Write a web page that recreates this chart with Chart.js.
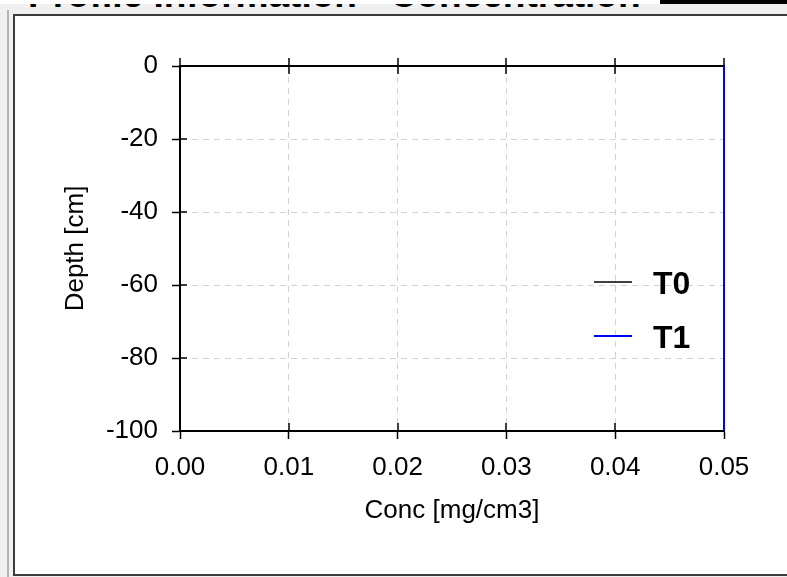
<!DOCTYPE html>
<html><head><meta charset="utf-8">
<script src="https://cdn.jsdelivr.net/npm/chart.js@4.4.1/dist/chart.umd.min.js"></script>
<style>
html,body{margin:0;padding:0;}
body{width:787px;height:577px;overflow:hidden;background:#f0f0f0;position:relative;font-family:"Liberation Sans",Arial,sans-serif;}
#strip{position:absolute;left:0;top:0;width:660px;height:4px;background:#ffffff;}
#topbar{position:absolute;left:660px;top:0;width:127px;height:4px;background:#000;}
#title{position:absolute;left:0;top:4px;width:787px;height:4px;overflow:hidden;}
#title span{position:absolute;left:28px;top:-28px;font:bold 37px/37px "Liberation Sans",Arial,sans-serif;color:#000;white-space:nowrap;}
#sidebar{position:absolute;left:7px;top:10px;width:2px;height:567px;background:#b4b4b4;}
#frame{position:absolute;left:13px;top:14px;width:800px;height:558px;border:2px solid #3c3c3c;border-right:none;background:#fff;}
#wrap{position:absolute;left:0;top:0;width:787px;height:577px;}
</style></head>
<body>
<div id="strip"></div>
<div id="topbar"></div>
<div id="title"><span>Profile Information - Concentration</span></div>
<div id="sidebar"></div>
<div id="frame"></div>
<div id="wrap"><canvas id="c" width="787" height="577"></canvas></div>
<script>
const depths = [0, -20, -40, -60, -80, -100];
const concT0 = [0.05, 0.05, 0.05, 0.05, 0.05, 0.05];
const concT1 = [0.05, 0.05, 0.05, 0.05, 0.05, 0.05];
const seriesNames = ['T0', 'T1'];
const seriesColors = ['#000000', '#0000ff'];
const xTicks = [0, 0.01, 0.02, 0.03, 0.04, 0.05];
const yTicks = [0, -20, -40, -60, -80, -100];
const xTitle = 'Conc [mg/cm3]';
const yTitle = 'Depth [cm]';

const FONT = '"Liberation Sans", Arial, sans-serif';

const toPts = (xs) => xs.map((v, i) => ({x: v, y: depths[i]}));

const framePlugin = {
  id: 'frameLines',
  beforeDatasetsDraw(chart) {
    const {ctx, chartArea: a, scales: {x, y}} = chart;
    ctx.save();
    ctx.strokeStyle = '#000';
    ctx.lineWidth = 2;
    ctx.beginPath(); ctx.moveTo(a.left, a.top); ctx.lineTo(a.right + 1, a.top); ctx.stroke();
    ctx.beginPath(); ctx.moveTo(a.right, a.top); ctx.lineTo(a.right, a.bottom); ctx.stroke();
    ctx.lineWidth = 1.5;
    x.ticks.forEach(t => {
      const px = Math.round(x.getPixelForValue(t.value));
      ctx.beginPath(); ctx.moveTo(px, a.top - 8); ctx.lineTo(px, a.top + 8); ctx.stroke();
      ctx.beginPath(); ctx.moveTo(px, a.bottom); ctx.lineTo(px, a.bottom - 8); ctx.stroke();
    });
    y.ticks.forEach(t => {
      const py = Math.round(y.getPixelForValue(t.value));
      ctx.beginPath(); ctx.moveTo(a.left, py); ctx.lineTo(a.left + 7, py); ctx.stroke();
    });
    ctx.restore();
  }
};

const legendPlugin = {
  id: 'innerLegend',
  afterDatasetsDraw(chart) {
    const {ctx, chartArea: a} = chart;
    ctx.save();
    chart.data.datasets.forEach((ds, i) => {
      const ly = a.top + 216 + i * 54;
      ctx.strokeStyle = ds.borderColor;
      ctx.lineWidth = ds.borderWidth;
      ctx.beginPath(); ctx.moveTo(a.right - 130, ly); ctx.lineTo(a.right - 92, ly); ctx.stroke();
      ctx.fillStyle = '#000';
      ctx.font = 'bold 32px ' + FONT;
      ctx.textAlign = 'left';
      ctx.textBaseline = 'alphabetic';
      ctx.fillText(ds.label, a.right - 71, ly + 11.5);
    });
    ctx.restore();
  }
};

new Chart(document.getElementById('c'), {
  type: 'scatter',
  data: {
    datasets: [
      {label: seriesNames[0], data: toPts(concT0), borderColor: seriesColors[0], backgroundColor: seriesColors[0], borderWidth: 1.5, showLine: true, pointRadius: 0, clip: false, order: 1},
      {label: seriesNames[1], data: toPts(concT1), borderColor: seriesColors[1], backgroundColor: seriesColors[1], borderWidth: 2, showLine: true, pointRadius: 0, clip: false, order: 0}
    ]
  },
  options: {
    responsive: false,
    animation: false,
    devicePixelRatio: 1,
    layout: {padding: {top: 66, right: 63, bottom: 51, left: 0}},
    plugins: {legend: {display: false}, tooltip: {enabled: false}, title: {display: false}},
    scales: {
      x: {
        type: 'linear', min: 0, max: 0.05,
        afterBuildTicks: s => { s.ticks = xTicks.map(v => ({value: v})); },
        afterFit: s => { s.height = 95; },
        ticks: {callback: v => Number(v).toFixed(2), color: '#000', font: {family: FONT, size: 26}, padding: 13, maxRotation: 0, autoSkip: false},
        grid: {color: '#d2d2d2', lineWidth: 1, tickColor: '#000', tickWidth: 1.5, tickLength: 8},
        border: {display: true, color: '#000', width: 2, dash: [6, 5]},
        title: {display: true, text: xTitle, color: '#000', font: {family: FONT, size: 26}, padding: {top: 0, bottom: 0}}
      },
      y: {
        type: 'linear', min: -100, max: 0,
        afterBuildTicks: s => { s.ticks = yTicks.map(v => ({value: v})); },
        afterFit: s => { s.width = 180; },
        ticks: {callback: v => String(v), color: '#000', font: {family: FONT, size: 26}, padding: 14, autoSkip: false},
        grid: {color: '#d2d2d2', lineWidth: 1, tickColor: '#000', tickWidth: 1.5, tickLength: 8},
        border: {display: true, color: '#000', width: 2, dash: [6, 5]},
        title: {display: true, text: yTitle, color: '#000', font: {family: FONT, size: 26}, padding: {top: 60, bottom: 0}}
      }
    }
  },
  plugins: [framePlugin, legendPlugin]
});
</script>
</body></html>
